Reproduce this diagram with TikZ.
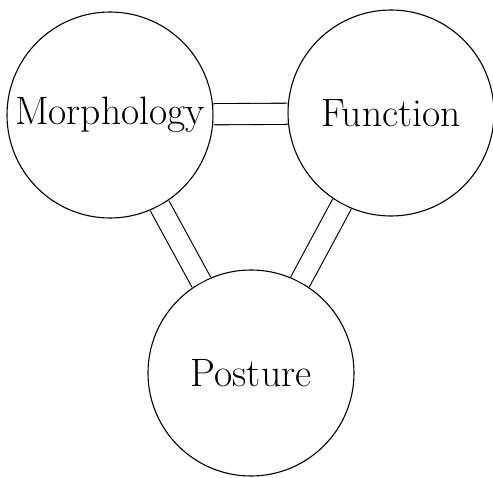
\documentclass[tikz,border=0pt]{standalone}
\usepackage{tikz}

\begin{document}
\begin{tikzpicture}[x=1pt,y=1pt]

\useasboundingbox (0,0) rectangle (493,477);

// Nodes
\tikzstyle{every node} = [circle, draw, line width=1.1pt, minimum size=206pt, inner sep=0pt, font=\fontsize{39.6}{44}\selectfont]
\tikzstyle{link} = [double, double distance=20pt, line width=1.1pt]
\node (morph) at (110, 362) {Morphology};
\node (func) at (391, 364) {Function};
\node (post) at (251, 104) {Posture};
\foreach \from/\to in {morph/func, morph/post, func/post}
\draw [link] (\from) -- (\to);

\end{tikzpicture}
\end{document}
